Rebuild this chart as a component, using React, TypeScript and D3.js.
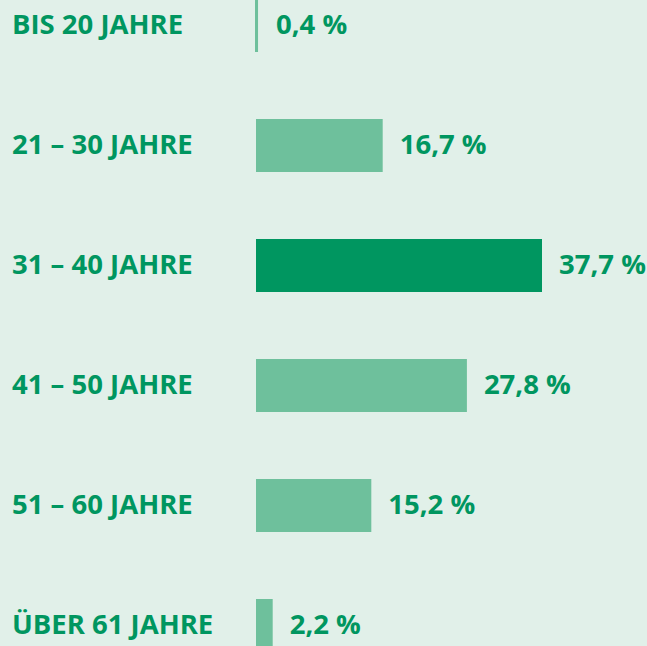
import React from "react";
import * as d3 from "d3";

const categories = ["BIS 20 JAHRE", "21 – 30 JAHRE", "31 – 40 JAHRE", "41 – 50 JAHRE", "51 – 60 JAHRE", "ÜBER 61 JAHRE"];
const values = [0.4, 16.7, 37.7, 27.8, 15.2, 2.2];
const valueLabels = ["0,4 %", "16,7 %", "37,7 %", "27,8 %", "15,2 %", "2,2 %"];
const highlightIndex = 2;

const W = 647;
const H = 646;
const BG = "#e1f0e9";
const DARK = "#009660";
const LIGHT = "#6ec09c";

export default function App() {
  const x0 = 256;
  const x = d3.scaleLinear().domain([0, 37.7]).range([x0, 542]);
  const bw = 53;
  const step = 120;
  return (
    <svg
      width={W}
      height={H}
      style={{ position: "fixed", left: 0, top: 0, display: "block", background: BG }}
      fontFamily="'Open Sans', sans-serif"
      fontWeight={700}
    >
      <rect width={W} height={H} fill={BG} />
      {categories.map((c, i) => {
        const top = -1 + i * step;
        const xe = x(values[i]);
        const cy = top + bw / 2;
        return (
          <g key={c}>
            <rect
              x={x0 - (values[i] < 1 ? 1 : 0)}
              y={top}
              width={Math.max(2, xe - x0)}
              height={bw}
              fill={i === highlightIndex ? DARK : LIGHT}
            />
            <text x={12} y={cy + 8} fontSize={27.5} fill={DARK}>
              {c}
            </text>
            <text x={xe + 17} y={cy + 8} fontSize={27.5} fill={DARK}>
              {valueLabels[i]}
            </text>
          </g>
        );
      })}
    </svg>
  );
}
